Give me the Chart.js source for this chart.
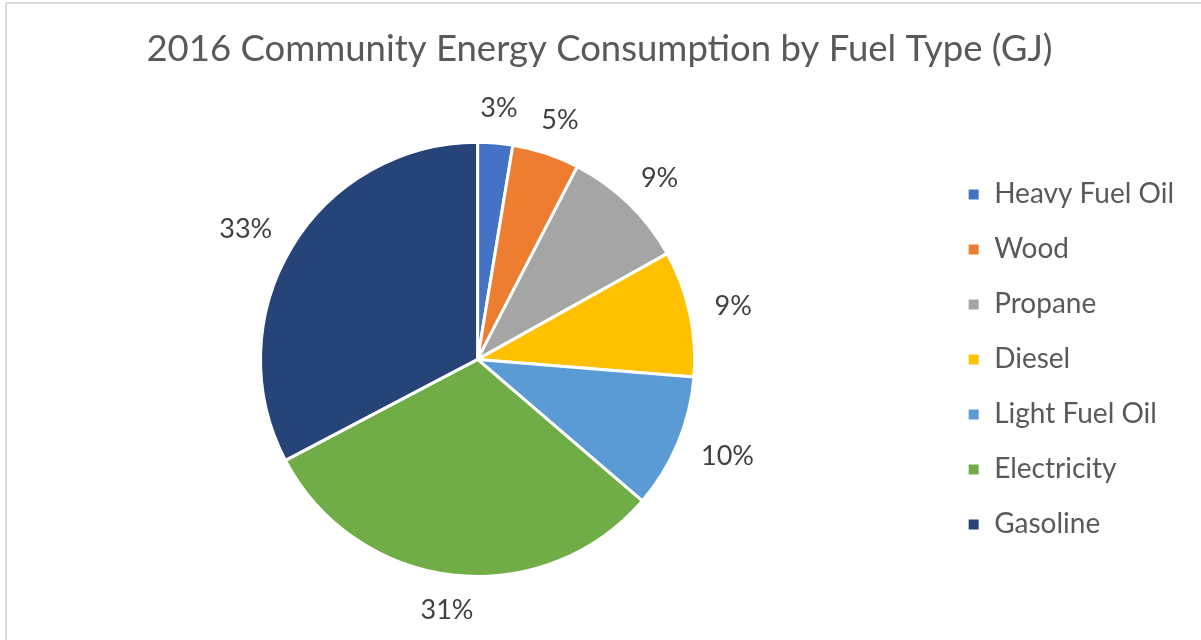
<!DOCTYPE html>
<html>
<head>
<meta charset="utf-8">
<script src="https://cdn.jsdelivr.net/npm/chart.js@4.4.1/dist/chart.umd.min.js"></script>
<style>
  html, body { margin: 0; padding: 0; background: #fff; }
  #wrap { width: 1201px; height: 640px; position: relative; }
</style>
</head>
<body>
<div id="wrap"><canvas id="pie-canvas" width="1201" height="640"></canvas></div>
<script>
const fuelTypes = ["Heavy Fuel Oil", "Wood", "Propane", "Diesel", "Light Fuel Oil", "Electricity", "Gasoline"];
// share of total energy (%)
const shares = [2.6, 5.0, 9.3, 9.4, 10.0, 31.0, 32.7];
const fuelColors = ["#4472C4", "#ED7D31", "#A5A5A5", "#FFC000", "#5B9BD5", "#70AD47", "#264478"];

const FONT = "Lato, 'Open Sans', sans-serif";

// light frame round the chart, like the spreadsheet export
const framePlugin = {
    id: "frame",
    beforeDraw(chart) {
        const ctx = chart.ctx;
        ctx.save();
        ctx.fillStyle = "#fff";
        ctx.fillRect(0, 0, chart.width, chart.height);
        ctx.strokeStyle = "#d9d9d9";
        ctx.lineWidth = 2;
        ctx.strokeRect(6, 3, chart.width + 10, chart.height + 10);
        ctx.restore();
    },
};

// percentage labels just outside each slice
const outsideLabels = {
    id: "outsideLabels",
    afterDatasetsDraw(chart) {
        const ctx = chart.ctx;
        const meta = chart.getDatasetMeta(0);
        const total = shares.reduce((a, b) => a + b, 0);
        ctx.save();
        ctx.font = "27px " + FONT;
        ctx.fillStyle = "#404040";
        ctx.textAlign = "center";
        ctx.textBaseline = "middle";
        meta.data.forEach((arc, i) => {
            const p = arc.getProps(["x", "y", "startAngle", "endAngle", "outerRadius"], true);
            const mid = (p.startAngle + p.endAngle) / 2;
            const text = Math.round(shares[i] / total * 100) + "%";
            const halfW = ctx.measureText(text).width / 2;
            const r = p.outerRadius + 22;
            const x = p.x + Math.cos(mid) * r + Math.cos(mid) * halfW * 1.2;
            const y = p.y + Math.sin(mid) * r + Math.sin(mid) * 13;
            ctx.fillText(text, x, y);
        });
        ctx.restore();
    },
};

new Chart(document.getElementById("pie-canvas"), {
    type: "pie",
    data: {
        labels: fuelTypes,
        datasets: [{
            data: shares,
            backgroundColor: fuelColors,
            borderColor: "#fff",
            borderWidth: 3,
        }],
    },
    plugins: [framePlugin, outsideLabels],
    options: {
        responsive: false,
        animation: false,
        layout: {
            padding: { top: 0, bottom: 62, left: 15, right: 17 },
        },
        plugins: {
            title: {
                display: true,
                text: "2016 Community Energy Consumption by Fuel Type (GJ)",
                color: "#595959",
                font: { family: FONT, size: 36.5, weight: "normal" },
                padding: { top: 27, bottom: 70 },
            },
            legend: {
                position: "right",
                fullSize: false,
                labels: {
                    color: "#595959",
                    font: { family: FONT, size: 28 },
                    boxWidth: 13,
                    boxHeight: 13,
                    padding: 27,
                },
            },
            tooltip: { enabled: false },
        },
    },
});
</script>
</body>
</html>
